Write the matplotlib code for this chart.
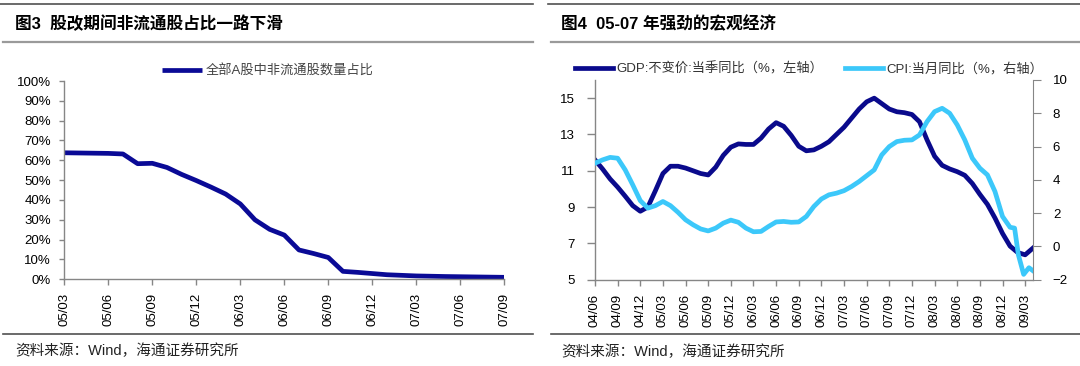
import matplotlib
matplotlib.use('Agg')
import matplotlib.pyplot as plt
from matplotlib.lines import Line2D

plt.rcParams['font.family'] = ['Liberation Sans', 'Noto Sans CJK SC', 'DejaVu Sans']

# 图3: 全部A股中非流通股数量占比 (%), 月度, 05/03 - 07/09
share_months = list(range(31))
share_values = [63.8, 63.7, 63.6, 63.5, 63.2, 58.3, 58.5, 56.4, 52.9, 49.8,
                46.5, 43.0, 38.0, 30.0, 25.2, 22.3, 14.8, 13.0, 11.0, 4.0,
                3.5, 2.9, 2.3, 2.0, 1.7, 1.55, 1.4, 1.3, 1.2, 1.1, 1.0]
share_ticks = ['05/03', '05/06', '05/09', '05/12', '06/03', '06/06',
               '06/09', '06/12', '07/03', '07/06', '07/09']

# 图4: GDP 不变价当季同比 (左轴), CPI 当月同比 (右轴), 月份从 04/06 起算
gdp_months = list(range(59))
gdp_values = [11.6, 11.1, 10.55, 10.1, 9.6, 9.08, 8.77, 9.0, 9.9, 10.85,
              11.25, 11.25, 11.15, 11.0, 10.85, 10.77, 11.2, 11.85, 12.3, 12.48,
              12.45, 12.45, 12.8, 13.3, 13.65, 13.45, 12.95, 12.35, 12.1, 12.15,
              12.35, 12.6, 13.0, 13.4, 13.9, 14.4, 14.8, 15.0, 14.7, 14.4,
              14.25, 14.2, 14.1, 13.7, 12.7, 11.8, 11.3, 11.1, 10.95, 10.75,
              10.3, 9.7, 9.15, 8.4, 7.55, 6.85, 6.5, 6.37, 6.73]
cpi_months = list(range(55)) + [55, 55.6, 56.1, 56.8, 57.5, 58.0]
cpi_values = [5.0, 5.2, 5.35, 5.3, 4.6, 3.7, 2.75, 2.3, 2.45, 2.7,
              2.45, 2.05, 1.6, 1.3, 1.05, 0.93, 1.1, 1.4, 1.58, 1.45,
              1.1, 0.88, 0.9, 1.2, 1.47, 1.5, 1.45, 1.47, 1.8, 2.4,
              2.85, 3.1, 3.2, 3.35, 3.6, 3.9, 4.25, 4.6, 5.5, 6.0,
              6.3, 6.38, 6.4, 6.7, 7.5, 8.1, 8.3, 8.0, 7.3, 6.4,
              5.3, 4.7, 4.3, 3.3, 1.8, 1.15, 1.1, -0.5, -1.68, -1.28, -1.45]
macro_ticks = ['04/06', '04/09', '04/12', '05/03', '05/06', '05/09', '05/12',
               '06/03', '06/06', '06/09', '06/12', '07/03', '07/06', '07/09',
               '07/12', '08/03', '08/06', '08/09', '08/12', '09/03']

W, H = 1080, 366
navy = '#0a0a8c'
sky = '#3cc8fa'
grey = '#868686'


def fx(x):
    return x / W


def fy(y):
    return 1 - y / H


def hline(fig, y, x0, x1, color, lw):
    fig.add_artist(Line2D([fx(x0), fx(x1)], [fy(y), fy(y)], color=color, lw=lw,
                          transform=fig.transFigure))


def style_axis(ax):
    for s in ['top', 'right']:
        ax.spines[s].set_visible(False)
    for s in ['left', 'bottom']:
        ax.spines[s].set_color(grey)
        ax.spines[s].set_linewidth(1.0)
    ax.tick_params(axis='both', colors=grey, labelcolor='black', width=1.0)


fig = plt.figure(figsize=(W / 100, H / 100), dpi=100)

# 标题栏和底线
for x0, x1 in [(0, 533), (548, 1080)]:
    hline(fig, 3.5, x0, x1, '#505050', 1.2)
    hline(fig, 41.5, x0 + 3, x1, '#9a9a9a', 1.6)
    hline(fig, 334, x0 + 3, x1, '#505050', 1.2)

fig.text(fx(15), fy(24), '图3  股改期间非流通股占比一路下滑', fontsize=12,
         fontweight='bold', va='center', ha='left')
fig.text(fx(561), fy(24), '图4  05-07 年强劲的宏观经济', fontsize=12,
         fontweight='bold', va='center', ha='left')
fig.text(fx(15), fy(351), '资料来源：Wind，海通证券研究所', fontsize=10.5,
         va='center', ha='left', color='#222222')
fig.text(fx(561), fy(352), '资料来源：Wind，海通证券研究所', fontsize=10.5,
         va='center', ha='left', color='#222222')

# 左图
ax1 = fig.add_axes([fx(64.3), fy(279.3), fx(504.3 - 64.3), (279.3 - 81) / H])
ax1.plot(share_months, share_values, color='#0a0a96', lw=3.4,
         solid_joinstyle='round', solid_capstyle='butt',
         label='全部A股中非流通股数量占比')
ax1.set_xlim(0, 30)
ax1.set_ylim(0, 100)
ax1.set_xticks(range(0, 31, 3))
ax1.set_xticklabels(share_ticks, rotation=90, fontsize=9.5)
ax1.set_yticks(range(0, 101, 10))
ax1.set_yticklabels(['%d%%' % v for v in range(0, 101, 10)], fontsize=9.5)
style_axis(ax1)
ax1.tick_params(axis='y', length=3.5, pad=6)
ax1.tick_params(axis='x', length=4, pad=6)
ax1.legend(loc='center left', bbox_to_anchor=(fx(162), fy(71.5)),
           bbox_transform=fig.transFigure, frameon=False, fontsize=9.5,
           handlelength=3.0, handletextpad=0.3, borderpad=0, borderaxespad=0,
           labelcolor='#444444')

# 右图
ax2 = fig.add_axes([fx(595), fy(279.7), fx(1032.7 - 595), (279.7 - 80) / H])
l1, = ax2.plot(gdp_months, gdp_values, color=navy, lw=3.4,
               solid_joinstyle='round', label='GDP:不变价:当季同比（%，左轴）')
ax2.set_xlim(0, 58)
ax2.set_ylim(5, 16)
ax2.set_yticks(range(5, 16, 2))
ax2.set_xticks(range(0, 58, 3))
ax2.set_xticklabels(macro_ticks, rotation=90, fontsize=9.5)
ax2.tick_params(axis='y', labelsize=9.5)
style_axis(ax2)
ax2.tick_params(axis='y', length=5.5, pad=9)
ax2.tick_params(axis='x', length=4, pad=6)

ax3 = ax2.twinx()
l2, = ax3.plot(cpi_months, cpi_values, color=sky, lw=3.4,
               solid_joinstyle='round', label='CPI:当月同比（%，右轴）')
ax3.set_ylim(-2, 10)
ax3.set_yticks(range(-2, 11, 2))
for s in ['top', 'left', 'bottom']:
    ax3.spines[s].set_visible(False)
ax3.spines['right'].set_color(grey)
ax3.tick_params(axis='y', colors=grey, labelcolor='black', labelsize=9.5,
                length=5.5, pad=9)

ax3.legend(handles=[l1, l2], loc='center left', bbox_to_anchor=(fx(575), fy(69)),
           bbox_transform=fig.transFigure, frameon=False, fontsize=9.5, ncol=2,
           handlelength=2.9, handletextpad=0.25, columnspacing=1.6,
           borderpad=0, borderaxespad=0, labelcolor='#333333')

fig.savefig('out.png', dpi=100)
